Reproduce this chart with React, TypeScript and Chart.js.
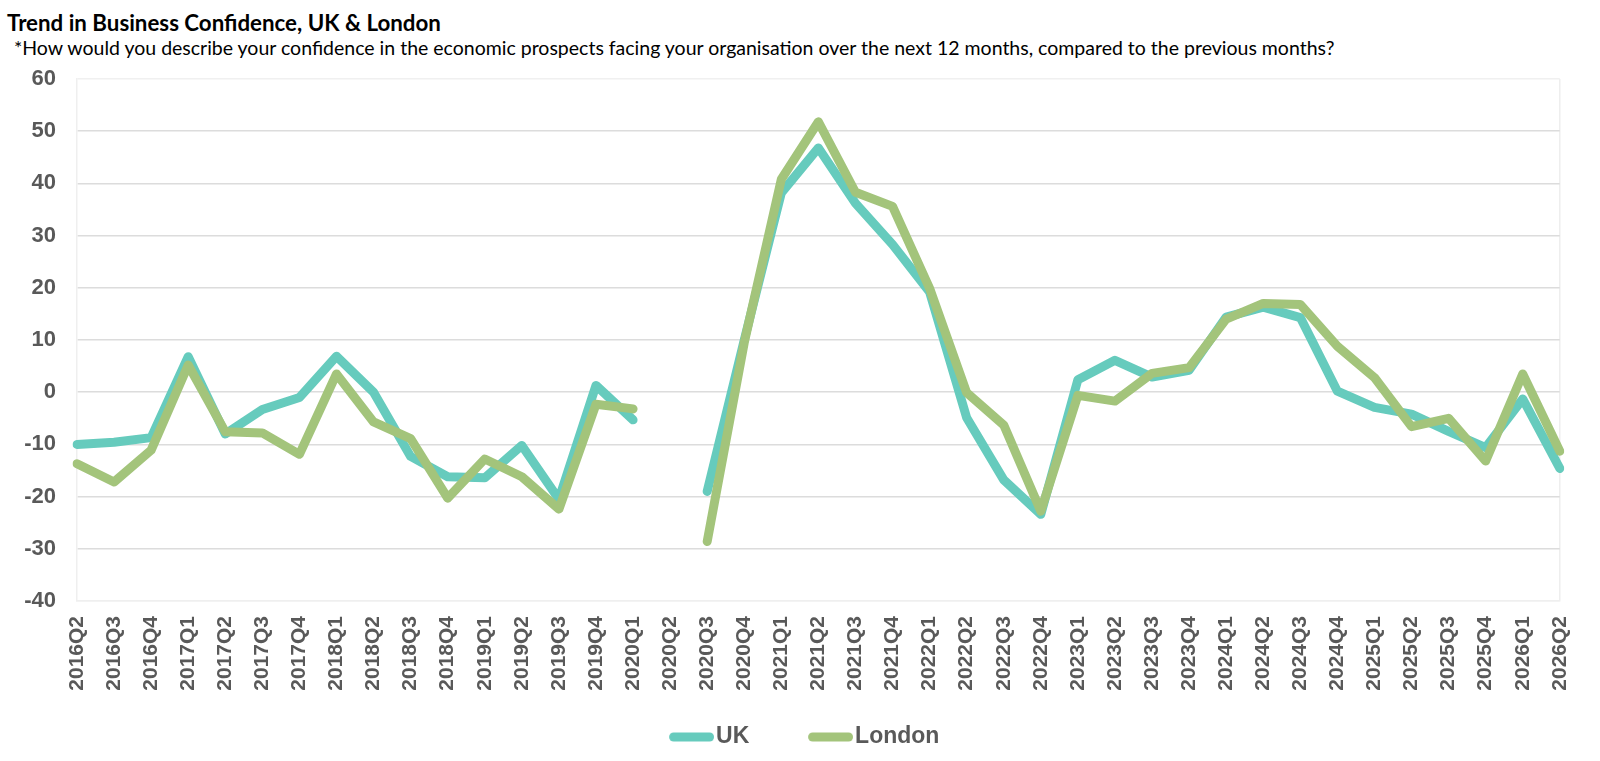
import React, { useEffect, useRef } from "react";
import { Chart, registerables } from "chart.js";

Chart.register(...registerables);

const quarters: string[] = [
  "2016Q2", "2016Q3", "2016Q4",
  "2017Q1", "2017Q2", "2017Q3", "2017Q4",
  "2018Q1", "2018Q2", "2018Q3", "2018Q4",
  "2019Q1", "2019Q2", "2019Q3", "2019Q4",
  "2020Q1", "2020Q2", "2020Q3", "2020Q4",
  "2021Q1", "2021Q2", "2021Q3", "2021Q4",
  "2022Q1", "2022Q2", "2022Q3", "2022Q4",
  "2023Q1", "2023Q2", "2023Q3", "2023Q4",
  "2024Q1", "2024Q2", "2024Q3", "2024Q4",
  "2025Q1", "2025Q2", "2025Q3", "2025Q4",
  "2026Q1", "2026Q2",
];

const ukValues: (number | null)[] = [
  -10, -9.6, -8.7,
  6.8, -8, -3.3, -1,
  6.9, 0, -12.3, -16.2,
  -16.4, -10.2, -20.5, 1.3,
  -5.3, null, -19, 10,
  38.2, 46.8, 36.2, 28.3,
  19.2, -4.9, -16.8, -23.4,
  2.4, 6.1, 2.9, 4.2,
  14.4, 16.3, 14.3, 0.2,
  -2.9, -4.2, -7.5, -10.6,
  -1.3, -14.6,
];

const londonValues: (number | null)[] = [
  -13.7, -17.2, -11.1,
  5.2, -7.6, -7.8, -11.9,
  3.5, -5.7, -8.9, -20.3,
  -12.8, -16.2, -22.4, -2.3,
  -3.2, null, -28.6, 9.5,
  40.8, 51.8, 38.3, 35.6,
  19.9, -0.1, -6.3, -22.8,
  -0.6, -1.7, 3.6, 4.7,
  14.0, 17.0, 16.8, 8.8,
  2.8, -6.6, -5.0, -13.2,
  3.5, -11.3,
];

const yTicks = { min: -40, max: 60, step: 10 };

const titleText = "Trend in Business Confidence, UK & London";
const subtitleText =
  "*How would you describe your confidence in the economic prospects facing your organisation over the next 12 months, compared to the previous months?";

const UK_COLOR = "#66CBBD";
const LONDON_COLOR = "#A3C47B";
const TEXT_GRAY = "#595959";
const AXIS_FONT = "'Liberation Sans', Arial, sans-serif";

// legend swatch: a rounded line drawn at the right end of a transparent strip
const SWATCH_BOX = 63;
function makeSwatch(color: string): HTMLCanvasElement {
  const w = SWATCH_BOX + 19;
  const h = 10;
  const c = document.createElement("canvas");
  c.width = w;
  c.height = h;
  const g = c.getContext("2d");
  if (g) {
    g.strokeStyle = color;
    g.lineWidth = 9;
    g.lineCap = "round";
    g.beginPath();
    g.moveTo(w - 45 + 4.5, h / 2);
    g.lineTo(w - 4.5, h / 2);
    g.stroke();
  }
  return c;
}

export default function App() {
  const canvasRef = useRef<HTMLCanvasElement | null>(null);

  useEffect(() => {
    if (!canvasRef.current) return;
    const last = quarters.length - 1;
    const swatches = [makeSwatch(UK_COLOR), makeSwatch(LONDON_COLOR)];
    const chart = new Chart(canvasRef.current, {
      type: "line",
      data: {
        labels: quarters,
        datasets: [
          {
            label: "UK",
            data: ukValues,
            borderColor: UK_COLOR,
            backgroundColor: UK_COLOR,
            borderWidth: 9,
            pointRadius: 0,
            pointHoverRadius: 0,
            tension: 0,
            spanGaps: false,
            borderCapStyle: "round",
            borderJoinStyle: "round",
            order: 1,
          },
          {
            label: "London",
            data: londonValues,
            borderColor: LONDON_COLOR,
            backgroundColor: LONDON_COLOR,
            borderWidth: 9,
            pointRadius: 0,
            pointHoverRadius: 0,
            tension: 0,
            spanGaps: false,
            borderCapStyle: "round",
            borderJoinStyle: "round",
            order: 0,
          },
        ],
      },
      options: {
        animation: false,
        responsive: true,
        maintainAspectRatio: false,
        layout: { padding: { left: 8, right: 27, top: 79, bottom: 2.5 } },
        plugins: {
          title: { display: false },
          tooltip: { enabled: false },
          legend: {
            position: "bottom",
            labels: {
              usePointStyle: true,
              pointStyleWidth: SWATCH_BOX,
              boxHeight: 10,
              color: TEXT_GRAY,
              padding: 31.3,
              font: { family: AXIS_FONT, size: 23, weight: "bold" },
              sort: (a: any, b: any) => a.datasetIndex - b.datasetIndex,
              generateLabels: (chart: any) => {
                const base = Chart.defaults.plugins.legend.labels.generateLabels(chart);
                return base.map((l: any) => ({
                  ...l,
                  lineWidth: 0,
                  strokeStyle: "rgba(0,0,0,0)",
                  pointStyle: swatches[l.datasetIndex],
                }));
              },
            },
          },
        },
        scales: {
          x: {
            type: "category",
            offset: false,
            afterFit: (s: any) => {
              s.height = 93.2;
            },
            grid: {
              drawTicks: false,
              color: (ctx: any) => (ctx.index === last ? "#eeeeee" : "rgba(0,0,0,0)"),
              lineWidth: 1.5,
            },
            border: { display: true, color: "#efefef", width: 1.5 },
            ticks: {
              autoSkip: false,
              maxRotation: 90,
              minRotation: 90,
              padding: 15,
              color: TEXT_GRAY,
              font: { family: AXIS_FONT, size: 21, weight: "bold" },
            },
          },
          y: {
            min: yTicks.min,
            max: yTicks.max,
            afterFit: (s: any) => {
              s.width = 69;
            },
            grid: {
              drawTicks: false,
              lineWidth: 1.5,
              color: (ctx: any) =>
                ctx.tick && (ctx.tick.value === yTicks.max || ctx.tick.value === yTicks.min)
                  ? "#f0f0f0"
                  : "#dcdcdc",
            },
            border: { display: true, color: "#efefef", width: 1.5 },
            ticks: {
              stepSize: yTicks.step,
              padding: 21,
              color: TEXT_GRAY,
              font: { family: AXIS_FONT, size: 22, weight: "bold" },
            },
          },
        },
      },
    });
    return () => chart.destroy();
  }, []);

  return (
    <div style={{ position: "absolute", left: 0, top: 0, width: 1600, height: 761, background: "#fff" }}>
      <div
        style={{
          position: "absolute",
          left: 7,
          top: 9,
          fontFamily: "Lato, 'Open Sans', sans-serif",
          fontWeight: 700,
          fontSize: 22.3,
          color: "#000",
          whiteSpace: "nowrap",
          lineHeight: "27px",
        }}
      >
        {titleText}
      </div>
      <div
        style={{
          position: "absolute",
          left: 14,
          top: 35.5,
          fontFamily: "Lato, 'Open Sans', sans-serif",
          fontWeight: 400,
          fontSize: 19.5,
          color: "#000",
          whiteSpace: "nowrap",
          lineHeight: "24px",
        }}
      >
        {subtitleText}
      </div>
      <canvas ref={canvasRef} style={{ position: "absolute", left: 0, top: 0, width: 1600, height: 761 }} />
    </div>
  );
}
